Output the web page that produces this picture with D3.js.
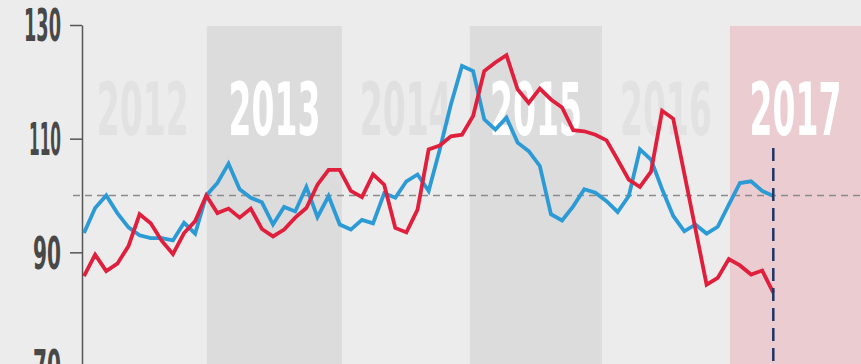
<html>
    <head>
        <style>
            body{ margin: 0; background: #ececec; }
            .line{ fill: none; stroke-width: 3.8; stroke-linejoin: miter; }
        </style>
        <script src="https://d3js.org/d3.v7.min.js"></script>
    </head>
    <body>
        <svg width="861" height="364"></svg>
        <script>
            // monthly index values, month 11 = base (100)
            let blueValues = [93.4, 97.8, 100.0, 96.9, 94.4, 93.0, 92.5, 92.5, 92.1, 95.2, 93.3,
                100.0, 102.2, 105.6, 101.1, 99.6, 98.8, 94.9, 98.0, 97.2, 101.5, 96.2, 99.9,
                94.9, 94.0, 95.7, 95.1, 100.4, 99.6, 102.5, 103.7, 100.8, 108.1, 116.0, 122.8,
                121.9, 113.4, 111.6, 113.7, 109.3, 107.8, 105.2, 96.7, 95.6, 98.1, 101.1, 100.5,
                99.0, 97.1, 99.9, 108.1, 106.3, 101.1, 96.4, 93.7, 94.9, 93.3, 94.5, 98.4,
                102.2, 102.5, 100.8, 99.9]
            let redValues = [85.8, 89.6, 86.7, 88.0, 91.1, 96.7, 95.1, 92.0, 89.7, 93.4, 95.5,
                100.0, 96.9, 97.7, 96.1, 97.7, 94.1, 92.8, 94.0, 96.1, 97.8, 101.9, 104.5,
                104.5, 100.8, 99.7, 103.7, 101.9, 94.3, 93.5, 97.5, 108.1, 108.8, 110.4, 110.7,
                114.0, 121.9, 123.4, 124.7, 118.7, 116.3, 118.8, 116.9, 115.5, 111.5, 111.3, 110.7,
                109.7, 106.3, 102.8, 101.5, 104.2, 114.9, 113.5, 103.8, 94.1, 84.3, 85.5, 88.8,
                87.7, 86.1, 86.8, 82.9]
            let years = ["2012", "2013", "2014", "2015", "2016", "2017"]
            // where each year block starts / ends, in months
            let yearStart = [-0.5, 11.05, 23.2, 34.7, 46.6, 58.1, 69.9]
            let yTicks = [70, 90, 110, 130]
            let baseline = 100

            let svg = d3.select("svg"),
                width = +svg.attr("width"),
                height = +svg.attr("height")

            let xScale = d3.scaleLinear().domain([0, blueValues.length - 1]).range([84, 773.3]),
                yScale = d3.scaleLinear().domain([70, 130]).range([366, 25])

            let condensed = "'Liberation Sans Narrow', 'DejaVu Sans Condensed', 'Roboto Condensed', sans-serif"

            // year blocks
            let bandFill = ["#ececec", "#dcdcdc", "#ececec", "#dcdcdc", "#ececec", "#ebcdd1"]
            let labelFill = ["#e2e2e2", "#ffffff", "#e0e0e0", "#ffffff", "#e2e2e2", "#ffffff"]

            svg.selectAll(".band")
                .data(years)
                .enter().append("rect")
                .attr("class", "band")
                .attr("x", function(d, i) { return xScale(yearStart[i]); })
                .attr("y", yScale(130) + 1)
                .attr("width", function(d, i) { return xScale(yearStart[i + 1]) - xScale(yearStart[i]); })
                .attr("height", height)
                .attr("fill", function(d, i) { return bandFill[i]; })

            svg.selectAll(".year")
                .data(years)
                .enter().append("text")
                .attr("class", "year")
                .attr("x", function(d, i) { return (xScale(yearStart[i]) + xScale(yearStart[i + 1])) / 2; })
                .attr("y", 135)
                .attr("text-anchor", "middle")
                .attr("font-family", condensed)
                .attr("font-weight", "bold")
                .attr("font-size", 73)
                .attr("textLength", 92)
                .attr("lengthAdjust", "spacingAndGlyphs")
                .attr("fill", function(d, i) { return labelFill[i]; })
                .text(function(d) { return d; })

            // reference line at 100
            svg.append("line")
                .attr("x1", 73).attr("x2", width)
                .attr("y1", yScale(baseline)).attr("y2", yScale(baseline))
                .attr("stroke", "#8a8a8a")
                .attr("stroke-width", 1.6)
                .attr("stroke-dasharray", "7,5")

            // axis
            let axis = svg.append("g")
                .attr("transform", "translate(82,0)")
                .call(d3.axisLeft(yScale).tickValues(yTicks).tickSize(12).tickSizeOuter(0).tickPadding(9))
            axis.select(".domain").attr("stroke", "#555").attr("stroke-width", 1.5)
            axis.selectAll(".tick line").attr("stroke", "#555").attr("stroke-width", 1.5)
            axis.selectAll(".tick text")
                .attr("font-family", condensed)
                .attr("font-weight", "bold")
                .attr("font-size", 44)
                .attr("fill", "#484848")
                .attr("dy", "0.36em")
                .attr("lengthAdjust", "spacingAndGlyphs")
                .attr("textLength", function(d) {
                    return String(d).split("").reduce(function(s, c) { return s + (c == "1" ? 9 : 14); }, 0);
                })

            let line = d3.line()
                .x(function(d, i) { return xScale(i); })
                .y(function(d) { return yScale(d); })

            svg.append("path")
                .datum(blueValues)
                .attr("class", "line")
                .attr("stroke", "#2b9ad5")
                .attr("d", line)

            svg.append("path")
                .datum(redValues)
                .attr("class", "line")
                .attr("stroke", "#e01f3d")
                .attr("d", line)

            // "now" marker
            let last = blueValues.length - 1
            svg.append("line")
                .attr("x1", xScale(last)).attr("x2", xScale(last))
                .attr("y1", 148).attr("y2", height)
                .attr("stroke", "#1c3766")
                .attr("stroke-width", 2.5)
                .attr("stroke-dasharray", "13,7")
        </script>
    </body>
</html>
